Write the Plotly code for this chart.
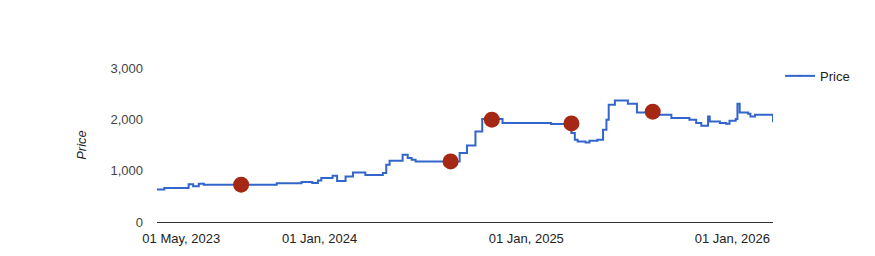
import plotly.graph_objects as go

dates = [
    "2023-03-19", "2023-04-01", "2023-05-14", "2023-05-22", "2023-06-01", "2023-06-10",
    "2023-10-17", "2023-11-30", "2023-12-19", "2023-12-29", "2024-01-04", "2024-01-24",
    "2024-02-01", "2024-02-16", "2024-02-29", "2024-03-22", "2024-04-22", "2024-04-28",
    "2024-05-04", "2024-05-27", "2024-06-05", "2024-06-12", "2024-06-19", "2024-09-05",
    "2024-09-18", "2024-10-03", "2024-10-15", "2024-11-20", "2025-02-14", "2025-03-22",
    "2025-03-28", "2025-04-02", "2025-04-16", "2025-04-23", "2025-05-07", "2025-05-17",
    "2025-05-23", "2025-05-27", "2025-06-07", "2025-06-30", "2025-07-16", "2025-08-22",
    "2025-09-15", "2025-10-17", "2025-10-29", "2025-11-07", "2025-11-19", "2025-11-22",
    "2025-12-10", "2025-12-21", "2025-12-27", "2026-01-07", "2026-01-10", "2026-01-14",
    "2026-01-29", "2026-02-02", "2026-02-10", "2026-03-02", "2026-03-14",
]
prices = [
    635, 662, 733, 694, 746, 727,
    755, 779, 760, 810, 857, 902,
    799, 888, 966, 915, 954, 1116,
    1194, 1311, 1247, 1214, 1181, 1344,
    1492, 1765, 2006, 1929, 1909, 1734,
    1603, 1570, 1551, 1584, 1603, 1798,
    1993, 2285, 2369, 2305, 2135, 2090,
    2026, 1993, 1929, 1876, 2057, 1960,
    1929, 1915, 1973, 2006, 2305, 2135,
    2110, 2057, 2090, 2090, 1948,
]

event_dates = ["2023-08-15", "2024-08-20", "2024-11-01", "2025-03-22", "2025-08-13"]
event_prices = [727, 1181, 1993, 1921, 2149]

tick_dates = ["2023-05-01", "2024-01-01", "2025-01-01", "2026-01-01"]
tick_labels = ["01 May, 2023", "01 Jan, 2024", "01 Jan, 2025", "01 Jan, 2026"]
y_ticks = [0, 1000, 2000, 3000]
y_tick_labels = ["0", "1,000", "2,000", "3,000"]

FONT = "Arial, Liberation Sans, sans-serif"

fig = go.Figure()
fig.add_trace(go.Scatter(
    x=dates, y=prices, mode="lines+markers", name="Price",
    line=dict(color="#3366cc", width=2, shape="hv"),
    marker=dict(size=1, color="#3366cc"),
))
fig.add_trace(go.Scatter(
    x=event_dates, y=event_prices, mode="markers", showlegend=False,
    marker=dict(size=16, color="#a52714"),
))

fig.update_layout(
    width=875, height=256,
    margin=dict(l=157, r=102, t=68, b=34),
    paper_bgcolor="white", plot_bgcolor="white",
    font=dict(family=FONT, size=13, color="#444"),
    showlegend=True,
    legend=dict(x=1.0115, y=1.046, xanchor="left", yanchor="top",
                font=dict(family=FONT, size=13, color="#222"),
                bgcolor="rgba(0,0,0,0)", itemwidth=30),
    xaxis=dict(
        range=[dates[0], dates[-1]], automargin=False,
        tickmode="array", tickvals=tick_dates, ticktext=tick_labels,
        showgrid=False, zeroline=False,
        showline=True, linecolor="#333", linewidth=1,
        ticks="", ticklabelstandoff=4, tickfont=dict(color="#222", size=13),
    ),
    yaxis=dict(
        range=[0, 3000], automargin=False,
        tickmode="array", tickvals=y_ticks, ticktext=y_tick_labels,
        showgrid=False, zeroline=False, showline=False,
        ticks="", ticklabelstandoff=13,
        tickfont=dict(color="#444", size=13),
        title=dict(text="<i>Price</i>", font=dict(color="#222", size=13), standoff=20),
    ),
)

fig.write_html("out.html")
